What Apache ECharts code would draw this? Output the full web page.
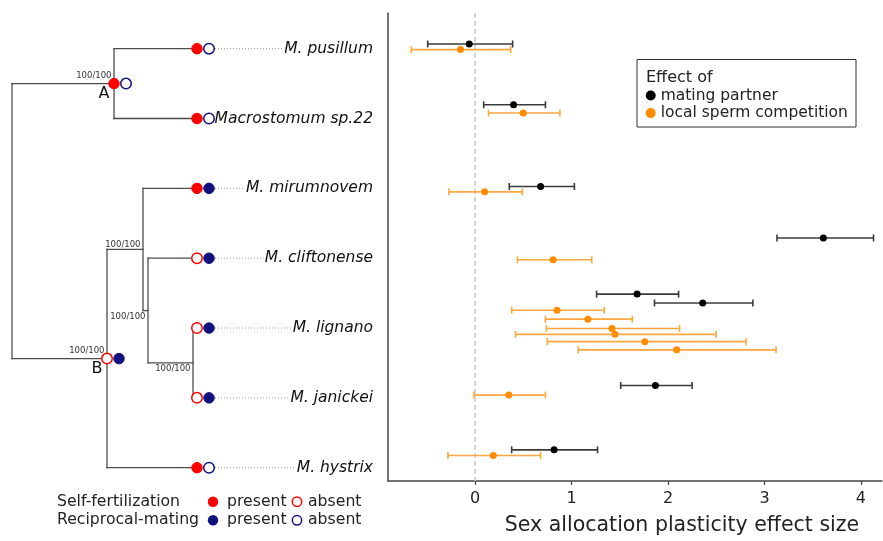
<!DOCTYPE html>
<html>
<head>
<meta charset="utf-8">
<script src="https://cdn.jsdelivr.net/npm/echarts@6/dist/echarts.min.js"></script>
<style>html,body{margin:0;padding:0;background:#fff}#c{width:883px;height:541px}</style>
</head>
<body>
<div id="c"></div>
<script>
// ---------------- DATA ----------------
// Phylogeny tips (top to bottom)
const tipNames = ['M. pusillum', 'Macrostomum sp.22', 'M. mirumnovem', 'M. cliftonense', 'M. lignano', 'M. janickei', 'M. hystrix'];
const tipParent = ['A', 'A', 'n3', 'n4', 'n5', 'n5', 'B'];
const tipDepth = 185;
const tipSelfFert = [1, 1, 1, 0, 0, 0, 1];      // 1 = present, 0 = absent
const tipRecipMating = [0, 0, 1, 1, 1, 1, 0];
// Internal nodes
const nodeNames = ['root', 'A', 'B', 'n3', 'n4', 'n5'];
const nodeParent = [null, 'root', 'root', 'B', 'n3', 'n4'];
const nodeDepth = [0, 102, 95, 131, 136, 181];
const nodeSupport = ['', '100/100', '100/100', '100/100', '100/100', '100/100'];
const nodeSupportSide = ['', 'above', 'above', 'above', 'below', 'below'];
const nodeLetter = ['', 'A', 'B', '', '', ''];
const nodeSelfFert = [null, 1, 0, null, null, null];
const nodeRecipMating = [null, 0, 1, null, null, null];

// Effect sizes: mating partner
const mpSpecies = ['M. pusillum', 'Macrostomum sp.22', 'M. mirumnovem', 'M. cliftonense', 'M. lignano', 'M. lignano', 'M. janickei', 'M. hystrix'];
const mpEst = [-0.06, 0.40, 0.68, 3.61, 1.68, 2.36, 1.87, 0.82];
const mpLo  = [-0.49, 0.09, 0.355, 3.13, 1.26, 1.86, 1.51, 0.38];
const mpHi  = [0.39, 0.73, 1.03, 4.13, 2.11, 2.88, 2.25, 1.27];
const mpRow = [-0.063, 0.817, 2.0, 2.745, 3.557, 3.686, 4.88, 5.811];
// Effect sizes: local sperm competition
const lscSpecies = ['M. pusillum', 'Macrostomum sp.22', 'M. mirumnovem', 'M. cliftonense', 'M. lignano', 'M. lignano', 'M. lignano', 'M. lignano', 'M. lignano', 'M. lignano', 'M. janickei', 'M. hystrix'];
const lscEst = [-0.15, 0.50, 0.10, 0.81, 0.85, 1.17, 1.42, 1.45, 1.76, 2.09, 0.35, 0.19];
const lscLo  = [-0.66, 0.14, -0.27, 0.44, 0.38, 0.73, 0.74, 0.42, 0.75, 1.07, -0.01, -0.28];
const lscHi  = [0.37, 0.88, 0.49, 1.21, 1.34, 1.63, 2.12, 2.50, 2.81, 3.12, 0.73, 0.68];
const lscRow = [0.019, 0.936, 2.077, 3.06, 3.791, 3.92, 4.054, 4.14, 4.245, 4.364, 5.019, 5.893];

const xTicks = [0, 1, 2, 3, 4];
const xTitle = 'Sex allocation plasticity effect size';
const seriesNames = ['mating partner', 'local sperm competition'];

// ---------------- BUILD ----------------
const FONT = 'DejaVu Sans';
const RED = '#ff0000', NAVY = '#10107f';
const BLACK_PT = '#000000', BLACK_BAR = '#3a3a3a';
const ORANGE_PT = '#ff8c00', ORANGE_BAR = '#ffa63f';
const DOT_OFFSET = 12;   // horizontal spacing between the two trait dots
const LABEL_RIGHT = 361; // right edge of tip labels (tree x units)

// node y = midpoint of children
const children = {};
nodeNames.forEach(n => children[n] = []);
tipParent.forEach((p, i) => children[p].push({tip: i}));
nodeParent.forEach((p, i) => { if (p) children[p].push({node: i}); });
const nodeY = {};
function yOf(c) { return c.tip !== undefined ? c.tip : calcNode(c.node); }
function calcNode(i) {
  const name = nodeNames[i];
  if (nodeY[name] !== undefined) return nodeY[name];
  const ys = children[name].map(yOf);
  nodeY[name] = (Math.min(...ys) + Math.max(...ys)) / 2;
  return nodeY[name];
}
nodeNames.forEach((n, i) => calcNode(i));
const depthOf = name => nodeDepth[nodeNames.indexOf(name)];

const segments = [];
tipNames.forEach((t, i) => segments.push([depthOf(tipParent[i]), i, tipDepth, i]));
nodeNames.forEach((n, i) => {
  if (nodeParent[i]) segments.push([depthOf(nodeParent[i]), nodeY[n], nodeDepth[i], nodeY[n]]);
  const ys = children[n].map(yOf);
  segments.push([nodeDepth[i], Math.min(...ys), nodeDepth[i], Math.max(...ys)]);
});

function dotItem(x, y, present, color) {
  return {value: [x, y], itemStyle: present ? {color: color, borderColor: color, borderWidth: 1, opacity: 1}
                                          : {color: '#fff', borderColor: color, borderWidth: 1.5, opacity: 1}};
}
const traitDots = [];
tipNames.forEach((t, i) => {
  traitDots.push(dotItem(tipDepth, i, tipSelfFert[i], RED));
  traitDots.push(dotItem(tipDepth + DOT_OFFSET, i, tipRecipMating[i], NAVY));
});
nodeNames.forEach((n, i) => {
  if (nodeSelfFert[i] !== null) traitDots.push(dotItem(nodeDepth[i], nodeY[n], nodeSelfFert[i], RED));
  if (nodeRecipMating[i] !== null) traitDots.push(dotItem(nodeDepth[i] + DOT_OFFSET, nodeY[n], nodeRecipMating[i], NAVY));
});

const measureCtx = document.createElement('canvas').getContext('2d');
function textW(s, font) { measureCtx.font = font; return measureCtx.measureText(s).width; }
const TIP_FONT_SIZE = 15.5;

const yMin = -0.511, yMax = 6.262;
const gridTop = 13, gridBottom = 55;

const option = {
  animation: false,
  backgroundColor: '#fff',
  textStyle: {fontFamily: FONT},
  grid: [
    {left: 0, width: 388, top: gridTop, bottom: gridBottom},
    {left: 388, right: 1, top: gridTop, bottom: gridBottom}
  ],
  xAxis: [
    {gridIndex: 0, type: 'value', min: -12, max: 376, show: false},
    {gridIndex: 1, type: 'value', min: -0.9016, max: 4.218,
     axisLine: {show: true, onZero: false, lineStyle: {color: '#444', width: 1.5}},
     axisTick: {show: true, length: 4, customValues: xTicks, lineStyle: {color: '#444', width: 1.2}},
     axisLabel: {customValues: xTicks, fontSize: 16, color: '#222', margin: 10},
     splitLine: {show: false},
     name: xTitle, nameLocation: 'middle', nameGap: 34,
     nameTextStyle: {fontSize: 20.5, color: '#222', padding: [0, 0, 0, 94]}}
  ],
  yAxis: [
    {gridIndex: 0, type: 'value', min: yMin, max: yMax, inverse: true, show: false},
    {gridIndex: 1, type: 'value', min: yMin, max: yMax, inverse: true,
     axisLine: {show: true, onZero: false, lineStyle: {color: '#444', width: 1.5}},
     axisTick: {show: false}, axisLabel: {show: false}, splitLine: {show: false}}
  ],
  legend: {
    data: seriesNames, orient: 'vertical', left: 645.7, top: 87.5, padding: 0,
    itemWidth: 10, itemHeight: 10, itemGap: 1.6, icon: 'circle',
    textStyle: {fontSize: 15.5, color: '#222', lineHeight: 16}
  },
  graphic: [
    {type: 'rect', z: 1, shape: {x: 637, y: 59.5, width: 219, height: 67.5},
     style: {fill: '#fff', stroke: '#333', lineWidth: 1}},
    {type: 'text', z: 2, x: 646, y: 77.7, style: {text: 'Effect of', font: '16px "DejaVu Sans"', fill: '#222', verticalAlign: 'middle'}},
    // trait legend
    {type: 'text', x: 57, y: 501.7, style: {text: 'Self-fertilization', font: '15.7px "DejaVu Sans"', fill: '#222', verticalAlign: 'middle'}},
    {type: 'circle', shape: {cx: 213, cy: 501.7, r: 5.2}, style: {fill: RED}},
    {type: 'text', x: 227, y: 501.7, style: {text: 'present', font: '15.7px "DejaVu Sans"', fill: '#222', verticalAlign: 'middle'}},
    {type: 'circle', shape: {cx: 297, cy: 501.7, r: 4.7}, style: {fill: '#fff', stroke: RED, lineWidth: 1.5}},
    {type: 'text', x: 308, y: 501.7, style: {text: 'absent', font: '15.7px "DejaVu Sans"', fill: '#222', verticalAlign: 'middle'}},
    {type: 'text', x: 57, y: 520.3, style: {text: 'Reciprocal-mating', font: '15.7px "DejaVu Sans"', fill: '#222', verticalAlign: 'middle'}},
    {type: 'circle', shape: {cx: 213, cy: 520.3, r: 5.2}, style: {fill: NAVY}},
    {type: 'text', x: 227, y: 520.3, style: {text: 'present', font: '15.7px "DejaVu Sans"', fill: '#222', verticalAlign: 'middle'}},
    {type: 'circle', shape: {cx: 297, cy: 520.3, r: 4.7}, style: {fill: '#fff', stroke: NAVY, lineWidth: 1.5}},
    {type: 'text', x: 308, y: 520.3, style: {text: 'absent', font: '15.7px "DejaVu Sans"', fill: '#222', verticalAlign: 'middle'}}
  ],
  series: [
    // tree branches
    {type: 'custom', name: 'tree', xAxisIndex: 0, yAxisIndex: 0, silent: true,
     data: segments, encode: {x: [0, 2], y: [1, 3]},
     renderItem: (params, api) => {
       const a = api.coord([api.value(0), api.value(1)]);
       const b = api.coord([api.value(2), api.value(3)]);
       return {type: 'line', shape: {x1: a[0], y1: a[1], x2: b[0], y2: b[1]},
               style: {stroke: '#4d4d4d', lineWidth: 1.3, lineCap: 'square'}};
     }},
    // support values and node letters
    {type: 'custom', name: 'support', xAxisIndex: 0, yAxisIndex: 0, silent: true, z: 5,
     data: nodeNames.map((n, i) => [nodeDepth[i], nodeY[n], i]).filter(d => nodeSupport[d[2]] !== ''),
     renderItem: (params, api) => {
       const i = api.value(2);
       const p = api.coord([api.value(0), api.value(1)]);
       const hasDot = nodeSelfFert[i] !== null;
       const dy = nodeSupportSide[i] === 'above' ? (hasDot ? -8 : -4.5) : 6;
       const kids = [{type: 'text', x: p[0] - 2.5, y: p[1] + dy,
         style: {text: nodeSupport[i], font: '8.5px "DejaVu Sans"', fill: '#333', align: 'right', verticalAlign: 'middle'}}];
       if (nodeLetter[i]) kids.push({type: 'text', x: p[0] - 10, y: p[1] + 10.5,
         style: {text: nodeLetter[i], font: '16px "DejaVu Sans"', fill: '#111', align: 'center', verticalAlign: 'middle'}});
       return {type: 'group', children: kids};
     }},
    // tip labels with dotted leaders
    {type: 'custom', name: 'tips', xAxisIndex: 0, yAxisIndex: 0, silent: true,
     data: tipNames.map((t, i) => [tipDepth + DOT_OFFSET, i, LABEL_RIGHT]),
     renderItem: (params, api) => {
       const name = tipNames[params.dataIndex];
       const a = api.coord([api.value(0), api.value(1)]);
       const r = api.coord([api.value(2), api.value(1)]);
       const w = textW(name, 'italic ' + TIP_FONT_SIZE + 'px "DejaVu Sans"');
       return {type: 'group', children: [
         {type: 'line', shape: {x1: a[0] + 6, y1: a[1], x2: r[0] - w - 1, y2: a[1]},
          style: {stroke: '#9a9a9a', lineWidth: 1, lineDash: [1, 2]}},
         {type: 'text', x: r[0], y: a[1],
          style: {text: name, font: 'italic ' + TIP_FONT_SIZE + 'px "DejaVu Sans"', fill: '#111', align: 'right', verticalAlign: 'middle'}}
       ]};
     }},
    // trait dots
    {type: 'scatter', name: 'traits', xAxisIndex: 0, yAxisIndex: 0, silent: true, z: 4,
     symbol: 'circle', symbolSize: 10.5, data: traitDots},
    // error bars
    ...[[mpLo, mpHi, mpRow, BLACK_BAR], [lscLo, lscHi, lscRow, ORANGE_BAR]].map(([lo, hi, row, col], k) => ({
      type: 'custom', name: 'ci' + k, xAxisIndex: 1, yAxisIndex: 1, silent: true, z: 2,
      data: lo.map((v, i) => [v, row[i], hi[i]]), encode: {x: [0, 2], y: 1},
      renderItem: (params, api) => {
        const a = api.coord([api.value(0), api.value(1)]);
        const b = api.coord([api.value(2), api.value(1)]);
        const h = 3.5;
        const st = {stroke: col, lineWidth: 1.6};
        return {type: 'group', children: [
          {type: 'line', shape: {x1: a[0], y1: a[1], x2: b[0], y2: b[1]}, style: st},
          {type: 'line', shape: {x1: a[0], y1: a[1] - h, x2: a[0], y2: a[1] + h}, style: st},
          {type: 'line', shape: {x1: b[0], y1: b[1] - h, x2: b[0], y2: b[1] + h}, style: st}
        ]};
      }})),
    {type: 'scatter', name: seriesNames[0], xAxisIndex: 1, yAxisIndex: 1, z: 3,
     symbol: 'circle', symbolSize: 7, itemStyle: {color: BLACK_PT, opacity: 1},
     data: mpEst.map((v, i) => [v, mpRow[i]]),
     markLine: {silent: true, symbol: 'none', label: {show: false}, z: 1,
       lineStyle: {color: '#c8c8c8', type: [5, 3], width: 1.6},
       data: [{xAxis: 0}]}},
    {type: 'scatter', name: seriesNames[1], xAxisIndex: 1, yAxisIndex: 1, z: 3,
     symbol: 'circle', symbolSize: 7, itemStyle: {color: ORANGE_PT, opacity: 1},
     data: lscEst.map((v, i) => [v, lscRow[i]])}
  ]
};

const chart = echarts.init(document.getElementById('c'), null, {renderer: 'canvas'});
chart.setOption(option);
</script>
</body>
</html>
